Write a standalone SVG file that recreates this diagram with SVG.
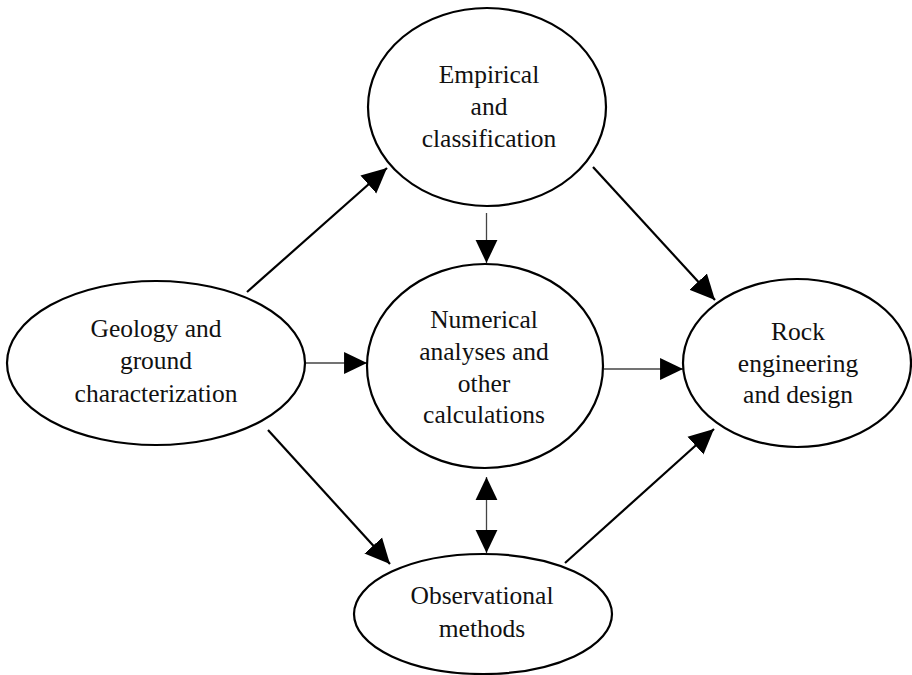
<svg xmlns="http://www.w3.org/2000/svg" width="912" height="675" viewBox="0 0 912 675">
<style>
.node ellipse{fill:#fff;stroke:#000;stroke-width:2.2}
.node text{font-family:"Liberation Serif","Times New Roman",serif;font-size:25.5px;fill:#111;text-anchor:middle}
.thick{stroke:#000;stroke-width:2.2;fill:none}
.thin{stroke:#444;stroke-width:1.3;fill:none}
</style>
<defs>
<marker id="big" markerUnits="userSpaceOnUse" markerWidth="26" markerHeight="26" viewBox="0 0 24 24" refX="23" refY="12" orient="auto">
<path d="M0,1 L23,12 L0,23 Z" fill="#000"/>
</marker>
<marker id="small" markerUnits="userSpaceOnUse" markerWidth="24" markerHeight="24" viewBox="0 0 22 22" refX="21" refY="11" orient="auto">
<path d="M0,1 L21,11 L0,21 Z" fill="#000"/>
</marker>
<marker id="smallStart" markerUnits="userSpaceOnUse" markerWidth="24" markerHeight="24" viewBox="0 0 22 22" refX="1" refY="11" orient="auto">
<path d="M22,1 L1,11 L22,21 Z" fill="#000"/>
</marker>
</defs>
<g id="connectors">
<line class="thick" x1="247" y1="292" x2="387" y2="168" marker-end="url(#big)"/>
<line class="thick" x1="593" y1="167" x2="715" y2="300" marker-end="url(#big)"/>
<line class="thick" x1="268" y1="430" x2="390" y2="564" marker-end="url(#big)"/>
<line class="thick" x1="565" y1="563" x2="714" y2="429" marker-end="url(#big)"/>
<line class="thin" x1="486.5" y1="213" x2="486.5" y2="263" marker-end="url(#small)"/>
<line class="thin" x1="306" y1="363" x2="367" y2="363" marker-end="url(#small)"/>
<line class="thin" x1="604" y1="369" x2="683" y2="369" marker-end="url(#small)"/>
<line class="thin" x1="486.5" y1="477" x2="486.5" y2="553" marker-start="url(#smallStart)" marker-end="url(#small)"/>
</g>
<g id="empirical" class="node">
<ellipse cx="487" cy="107" rx="119" ry="99"/>
<text x="489" y="83">Empirical</text>
<text x="489" y="115">and</text>
<text x="489" y="147">classification</text>
</g>
<g id="geology" class="node">
<ellipse cx="156" cy="363" rx="149" ry="82"/>
<text x="156" y="337">Geology and</text>
<text x="156" y="369">ground</text>
<text x="156" y="402">characterization</text>
</g>
<g id="numerical" class="node">
<ellipse cx="485" cy="366" rx="118" ry="102"/>
<text x="484" y="328">Numerical</text>
<text x="484" y="360">analyses and</text>
<text x="484" y="392">other</text>
<text x="484" y="423">calculations</text>
</g>
<g id="rock" class="node">
<ellipse cx="797" cy="363" rx="114" ry="84"/>
<text x="798" y="340">Rock</text>
<text x="798" y="372">engineering</text>
<text x="798" y="403">and design</text>
</g>
<g id="observational" class="node">
<ellipse cx="483" cy="614" rx="129" ry="60"/>
<text x="482" y="604">Observational</text>
<text x="482" y="637">methods</text>
</g>
</svg>
